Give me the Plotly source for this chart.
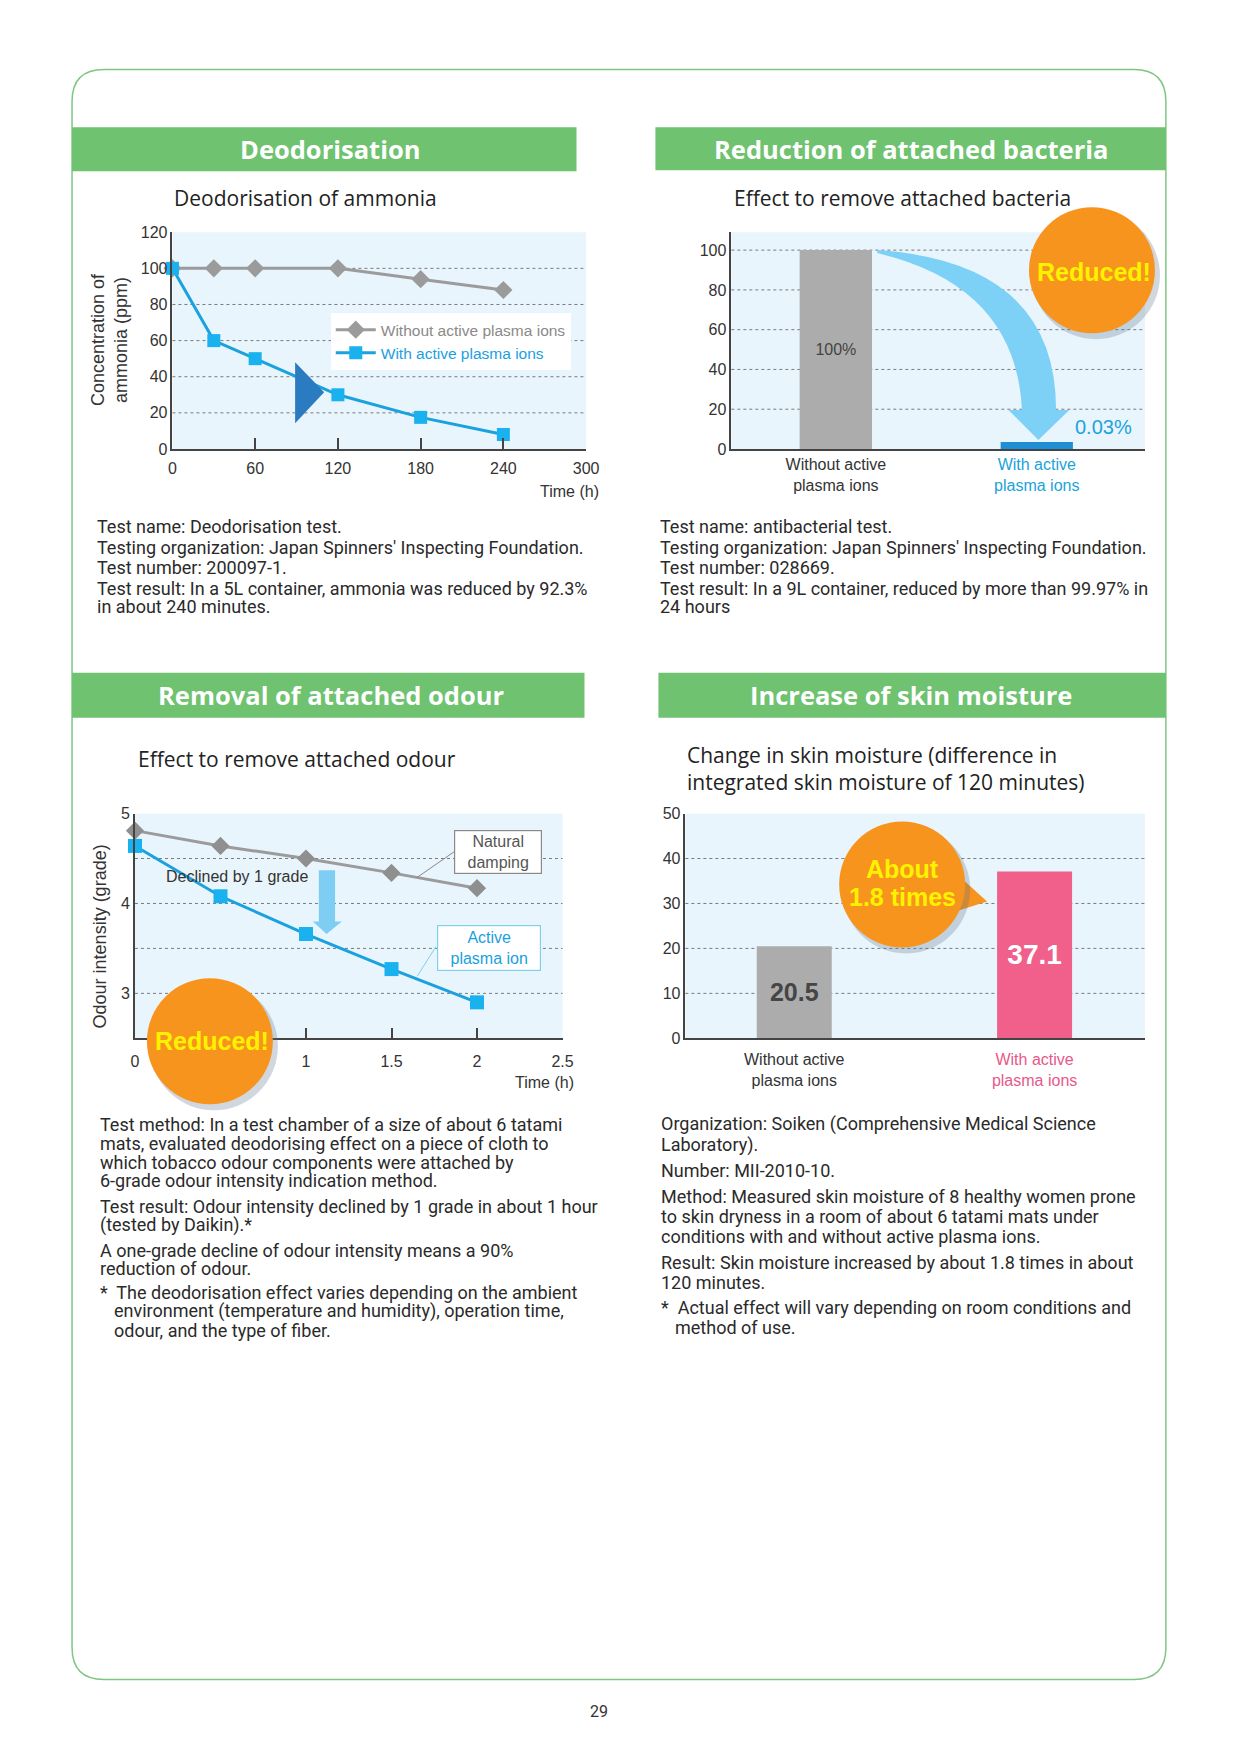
import plotly.graph_objects as go

# ---------------- data ----------------
ammonia_time_min = [0, 30, 60, 120, 180, 240]
ammonia_without = [100, 100, 100, 100, 94, 88]
ammonia_with = [100, 60, 50, 30, 17.5, 8]
ammonia_xticks = [0, 60, 120, 180, 240, 300]
ammonia_yticks = [0, 20, 40, 60, 80, 100, 120]

bacteria_labels = ["Without active<br>plasma ions", "With active<br>plasma ions"]
bacteria_pct = [100, 0.03]
bacteria_yticks = [0, 20, 40, 60, 80, 100]

odour_time_h = [0, 0.5, 1, 1.5, 2]
odour_natural = [4.81, 4.64, 4.5, 4.34, 4.17]
odour_plasma = [4.64, 4.08, 3.66, 3.27, 2.9]
odour_xticks = [0, 0.5, 1, 1.5, 2, 2.5]
odour_yticks = [3, 4, 5]

moisture_labels = ["Without active<br>plasma ions", "With active<br>plasma ions"]
moisture_values = [20.5, 37.1]
moisture_yticks = [0, 10, 20, 30, 40, 50]

# ---------------- page geometry helpers ----------------
OFF = 8
W, H = 1210, 1730
SX, BX = 0.987, 4.0     # empirical render correction (horizontal)
SY, BY = 0.9913, 7.6    # empirical render correction (vertical)


def px(x):
    return ((x - BX) / SX - OFF) / W


def py(y):
    return 1 - ((y - BY) / SY - OFF) / H


GREEN = "#6ec270"
BG = "#e9f5fc"
AX = "#444444"
GRAYL = "#9b9b9b"
BLUE = "#1aa1de"
ORANGE = "#f7941d"
YELLOW = "#fff200"
PINK = "#f0608b"
LABEL_FONT = "Liberation Sans, Arial, sans-serif"
HEAD_FONT = "Open Sans, Lato, sans-serif"
BODY_FONT = "Roboto, Lato, sans-serif"


def colored(label, color):
    return "<br>".join(f"<span style='color:{color}'>{p}</span>" for p in label.split("<br>"))


def A(text, x, y, xref="paper", yref="paper", xanchor="center", yanchor="middle", **kw):
    if xref == "paper":
        x = px(x)
    if yref == "paper":
        y = py(y)
    return dict(text=text, x=x, y=y, xref=xref, yref=yref, xanchor=xanchor,
                yanchor=yanchor, showarrow=False, **kw)


fig = go.Figure()

# ---- Chart 1: deodorisation of ammonia ----
fig.add_trace(go.Scatter(
    x=ammonia_time_min, y=ammonia_without, xaxis="x", yaxis="y",
    mode="lines+markers", cliponaxis=False,
    name="<span style='color:#8a8a8a'>Without active plasma ions</span>",
    line=dict(color=GRAYL, width=3),
    marker=dict(symbol="diamond", size=14, color=GRAYL)))
fig.add_trace(go.Scatter(
    x=ammonia_time_min, y=ammonia_with, xaxis="x", yaxis="y",
    mode="lines+markers", cliponaxis=False,
    name=f"<span style='color:{BLUE}'>With active plasma ions</span>",
    line=dict(color=BLUE, width=3),
    marker=dict(symbol="square", size=13, color="#1ab1ef")))

# ---- Chart 2: bacteria ----
fig.add_trace(go.Bar(
    x=list(range(len(bacteria_pct))), y=bacteria_pct, xaxis="x2", yaxis="y2",
    width=[0.36, 0.29], showlegend=False,
    marker=dict(color=["#acacac", "#1e8fd5"],
                line=dict(color=["#acacac", "#1e8fd5"], width=[0, 14])),
    text=[f"{bacteria_pct[0]:g}%", ""], textposition="inside",
    insidetextanchor="middle", textangle=0,
    textfont=dict(size=16, color="#444", family=LABEL_FONT)))

# ---- Chart 3: odour ----
fig.add_trace(go.Scatter(
    x=odour_time_h, y=odour_natural, xaxis="x3", yaxis="y3",
    mode="lines+markers", cliponaxis=False, showlegend=False,
    line=dict(color=GRAYL, width=3),
    marker=dict(symbol="diamond", size=14, color="#8f8f8f")))
fig.add_trace(go.Scatter(
    x=odour_time_h, y=odour_plasma, xaxis="x3", yaxis="y3",
    mode="lines+markers", cliponaxis=False, showlegend=False,
    line=dict(color=BLUE, width=3),
    marker=dict(symbol="square", size=14, color="#1ab1ef")))

# ---- Chart 4: skin moisture ----
fig.add_trace(go.Bar(
    x=list(range(len(moisture_values))), y=moisture_values, xaxis="x4", yaxis="y4",
    width=0.312, showlegend=False,
    marker=dict(color=["#acacac", PINK], line=dict(width=0)),
    texttemplate="<b>%{y}</b>", textposition="inside", insidetextanchor="middle",
    textangle=0,
    textfont=dict(size=[25, 28], color=["#454545", "white"], family=LABEL_FONT)))

tickfont = dict(size=16, color="#333", family=LABEL_FONT)
common_x = dict(showline=True, linecolor=AX, linewidth=1.5, showgrid=False,
                zeroline=False, ticks="", tickfont=tickfont, fixedrange=True)
common_y = dict(showline=True, linecolor=AX, linewidth=1.5, showgrid=False,
                zeroline=False, ticks="", tickfont=tickfont, fixedrange=True)

fig.update_layout(
    width=W, height=H, autosize=False,
    margin=dict(l=0, r=0, t=0, b=0),
    paper_bgcolor="white", plot_bgcolor=BG,
    font=dict(family=LABEL_FONT, color="#333"),
    xaxis=dict(common_x, domain=[px(172.5), px(586.6)], anchor="y", range=[0, 300],
               tickvals=ammonia_xticks, ticktext=[str(v) for v in ammonia_xticks],
               ticklabelstandoff=4,
               minor=dict(tickvals=ammonia_xticks[1:-1], ticks="inside", ticklen=11,
                          tickwidth=1.5, tickcolor=AX, showgrid=False)),
    yaxis=dict(common_y, domain=[py(449), py(232)], anchor="x", range=[0, 120],
               tickvals=ammonia_yticks),
    xaxis2=dict(common_x, domain=[px(732), px(1146)], anchor="y2", range=[-0.52, 1.538],
                tickvals=[0, 1], tickfont=dict(tickfont, size=16),
                ticktext=[bacteria_labels[0], colored(bacteria_labels[1], "#1aa3d9")],
                ticklabelstandoff=0),
    yaxis2=dict(common_y, domain=[py(449), py(232)], anchor="x2", range=[0, 109],
                tickvals=bacteria_yticks),
    xaxis3=dict(common_x, domain=[px(135), px(563)], anchor="y3", range=[0, 2.5],
                tickvals=odour_xticks, ticktext=[f"{v:g}" for v in odour_xticks],
                ticklabelstandoff=8,
                minor=dict(tickvals=odour_xticks[1:-1], ticks="inside", ticklen=11,
                           tickwidth=1.5, tickcolor=AX, showgrid=False)),
    yaxis3=dict(common_y, domain=[py(1039), py(814)], anchor="x3", range=[2.5, 5.0],
                tickvals=odour_yticks),
    xaxis4=dict(common_x, domain=[px(686), px(1146)], anchor="y4", range=[-0.453, 1.459],
                tickvals=[0, 1], tickfont=dict(tickfont, size=16),
                ticktext=[moisture_labels[0], colored(moisture_labels[1], "#e8588a")],
                ticklabelstandoff=6),
    yaxis4=dict(common_y, domain=[py(1039), py(814)], anchor="x4", range=[0, 50],
                tickvals=moisture_yticks),
    legend=dict(x=px(331), y=py(313), xanchor="left", yanchor="top",
                bgcolor="white", borderwidth=0, font=dict(size=15.5, family=LABEL_FONT),
                itemwidth=40, tracegroupgap=0),
)

shapes = []
ann = []

# page frame (rounded rectangle)
L, R, T, B, r = 72, 1167, 69, 1681, 32
frame = (f"M {px(L+r)},{py(T)} L {px(R-r)},{py(T)} Q {px(R)},{py(T)} {px(R)},{py(T+r)} "
         f"L {px(R)},{py(B-r)} Q {px(R)},{py(B)} {px(R-r)},{py(B)} "
         f"L {px(L+r)},{py(B)} Q {px(L)},{py(B)} {px(L)},{py(B-r)} "
         f"L {px(L)},{py(T+r)} Q {px(L)},{py(T)} {px(L+r)},{py(T)} Z")
shapes.append(dict(type="path", path=frame, xref="paper", yref="paper",
                   line=dict(color="#7fc682", width=1.5), layer="below"))

# section headers
headers = [
    ("Deodorisation", 72, 577, 127, 171, 331),
    ("Reduction of attached bacteria", 656, 1167, 127, 170, 912),
    ("Removal of attached odour", 72, 585, 673, 718, 331),
    ("Increase of skin moisture", 659, 1167, 673, 718, 912),
]
for text, x0, x1, y0, y1, cx in headers:
    shapes.append(dict(type="rect", xref="paper", yref="paper", x0=px(x0), x1=px(x1),
                       y0=py(y1), y1=py(y0), fillcolor=GREEN, line=dict(width=0),
                       layer="below"))
    ann.append(A(f"<b>{text}</b>", cx, (y0 + y1) / 2,
                 font=dict(size=25.5, color="white", family=HEAD_FONT)))

# chart subtitles
subtitles = [
    ("Deodorisation of ammonia", 172, 198),
    ("Effect to remove attached bacteria", 733, 198),
    ("Effect to remove attached odour", 136, 759),
    ("Change in skin moisture (difference in<br>integrated skin moisture of 120 minutes)",
     686, 769),
]
for text, x, y in subtitles:
    ann.append(A(text, x, y, xanchor="left", align="left",
                 font=dict(size=21, color="#222", family=HEAD_FONT)))

# dotted grid lines
grids = [("x", "y", [20, 40, 60, 80, 100]), ("x2", "y2", [20, 40, 60, 80, 100]),
         ("x3", "y3", [3, 3.5, 4, 4.5]), ("x4", "y4", [10, 20, 30, 40])]
for xr, yr, vals in grids:
    for v in vals:
        shapes.append(dict(type="line", xref=f"{xr} domain", yref=yr, x0=0, x1=1,
                           y0=v, y1=v, line=dict(color="#7a7a7a", width=1, dash="dot"),
                           layer="below"))

# axis titles
ann += [
    A("Concentration of<br>ammonia (ppm)", 109, 340, textangle=-90,
      font=dict(size=18, color="#333", family=LABEL_FONT)),
    A("Time (h)", 570, 492, font=dict(size=16, color="#333", family=LABEL_FONT)),
    A("Odour intensity (grade)", 100, 937, textangle=-90,
      font=dict(size=18, color="#333", family=LABEL_FONT)),
    A("Time (h)", 545, 1083, font=dict(size=16, color="#333", family=LABEL_FONT)),
]

# chart 1: dark triangle marker
shapes.append(dict(type="path", xref="x", yref="y",
                   path="M 89,48 L 110,31.4 L 89,14.3 Z",
                   fillcolor="#2b7bc0", line=dict(width=0), layer="above"))

# chart 2: curved arrow
shapes.append(dict(type="path", xref="x2", yref="y2",
                   path=("M 0.206,100 Q 1.096,94 1.096,19.6 L 1.162,19.6 L 1.008,4.5 "
                         "L 0.859,19.6 L 0.926,19.6 Q 0.897,82 0.206,98.5 Z"),
                   fillcolor="#7dd1f6", line=dict(width=0), layer="above"))
ann.append(A(f"{bacteria_pct[1]:g}%", 1.33, 11, xref="x2", yref="y2",
             font=dict(size=20, color="#1ba3dc", family=LABEL_FONT)))

# chart 3: leader lines, label boxes, arrow
shapes += [
    dict(type="line", xref="x3", yref="y3", x0=1.65, y0=4.29, x1=1.87, y1=4.58,
         line=dict(color="#888", width=1), layer="above"),
    dict(type="line", xref="x3", yref="y3", x0=1.65, y0=3.19, x1=1.76, y1=3.52,
         line=dict(color="#7fd0ef", width=1), layer="above"),
    dict(type="path", xref="x3", yref="y3",
         path="M 1.075,4.37 L 1.17,4.37 L 1.17,3.8 L 1.21,3.8 L 1.12,3.66 L 1.04,3.8 L 1.075,3.8 Z",
         fillcolor="#7ecef3", line=dict(width=0), layer="above"),
]
ann += [
    A("Natural<br>damping", 2.125, 4.567, xref="x3", yref="y3",
      bgcolor="white", bordercolor="#8a8a8a", borderwidth=1.2,
      borderpad=1, width=84, height=40,
      font=dict(size=16, color="#555", family=LABEL_FONT)),
    A("Active<br>plasma ion", 2.07, 3.506, xref="x3", yref="y3",
      bgcolor="white", bordercolor="#7fd0ef", borderwidth=1.2,
      borderpad=1, width=100, height=42,
      font=dict(size=16, color="#1aa0dc", family=LABEL_FONT)),
    A("Declined by 1 grade", 0.17, 4.3, xref="x3", yref="y3", xanchor="left",
      font=dict(size=16, color="#333", family=LABEL_FONT)),
]


def circle(cx, cy, rad):
    return [dict(type="circle", xref="paper", yref="paper", xsizemode="pixel",
                 ysizemode="pixel", xanchor=px(cx + 4), yanchor=py(cy + 5),
                 x0=-rad - 1, x1=rad + 1, y0=-rad - 1, y1=rad + 1,
                 fillcolor="rgba(90,110,140,0.28)", line=dict(width=0), layer="above"),
            dict(type="circle", xref="paper", yref="paper", xsizemode="pixel",
                 ysizemode="pixel", xanchor=px(cx), yanchor=py(cy),
                 x0=-rad, x1=rad, y0=-rad, y1=rad,
                 fillcolor=ORANGE, line=dict(width=0), layer="above")]


# orange badges
shapes += circle(1093, 270, 63)
shapes += circle(210, 1042, 63)
# speech bubble tail + bubble
shapes.append(dict(type="path", xref="paper", yref="paper",
                   path=f"M {px(955)},{py(872)} L {px(988)},{py(902)} L {px(950)},{py(914)} Z",
                   fillcolor=ORANGE, line=dict(width=0), layer="above"))
shapes += circle(903, 885, 63)

badge_font = dict(size=25, color=YELLOW, family=LABEL_FONT)
ann += [
    A("<b>Reduced!</b>", 1095, 272, font=badge_font),
    A("<b>Reduced!</b>", 212, 1042, font=badge_font),
    A("<b>About</b>", 903, 870, font=badge_font),
    A("<b>1.8 times</b>", 903, 898, font=badge_font),
]

# body texts
body = [
    (94.5, 527, "Test name: Deodorisation test."),
    (94.5, 548, "Testing organization: Japan Spinners' Inspecting Foundation."),
    (94.5, 568, "Test number: 200097-1."),
    (94.5, 589, "Test result: In a 5L container, ammonia was reduced by 92.3%"),
    (94.5, 607, "in about 240 minutes."),
    (658.5, 527, "Test name: antibacterial test."),
    (658.5, 548, "Testing organization: Japan Spinners' Inspecting Foundation."),
    (658.5, 568, "Test number: 028669."),
    (658.5, 589, "Test result: In a 9L container, reduced by more than 99.97% in"),
    (658.5, 607, "24 hours"),
    (98, 1125, "Test method: In a test chamber of a size of about 6 tatami"),
    (98, 1144, "mats, evaluated deodorising effect on a piece of cloth to"),
    (98, 1163, "which tobacco odour components were attached by"),
    (98, 1181, "6-grade odour intensity indication method."),
    (98, 1207, "Test result: Odour intensity declined by 1 grade in about 1 hour"),
    (98, 1226, "(tested by Daikin).*"),
    (98, 1251, "A one-grade decline of odour intensity means a 90%"),
    (98, 1269, "reduction of odour."),
    (98, 1293, "*  The deodorisation effect varies depending on the ambient"),
    (112, 1312, "environment (temperature and humidity), operation time,"),
    (112, 1332, "odour, and the type of fiber."),
    (660, 1125, "Organization: Soiken (Comprehensive Medical Science"),
    (660, 1146, "Laboratory)."),
    (660, 1171, "Number: MII-2010-10."),
    (660, 1197, "Method: Measured skin moisture of 8 healthy women prone"),
    (660, 1217, "to skin dryness in a room of about 6 tatami mats under"),
    (660, 1237, "conditions with and without active plasma ions."),
    (660, 1263, "Result: Skin moisture increased by about 1.8 times in about"),
    (660, 1283, "120 minutes."),
    (660, 1309, "*  Actual effect will vary depending on room conditions and"),
    (674, 1329, "method of use."),
]
for x, y, t in body:
    ann.append(A(t, x, y, xanchor="left",
                 font=dict(size=18, color="#2a2a2a", family=BODY_FONT)))

ann.append(A("29", 600, 1713, font=dict(size=16, color="#333", family=BODY_FONT)))

fig.update_layout(shapes=shapes, annotations=ann)
fig.write_html("out.html")
